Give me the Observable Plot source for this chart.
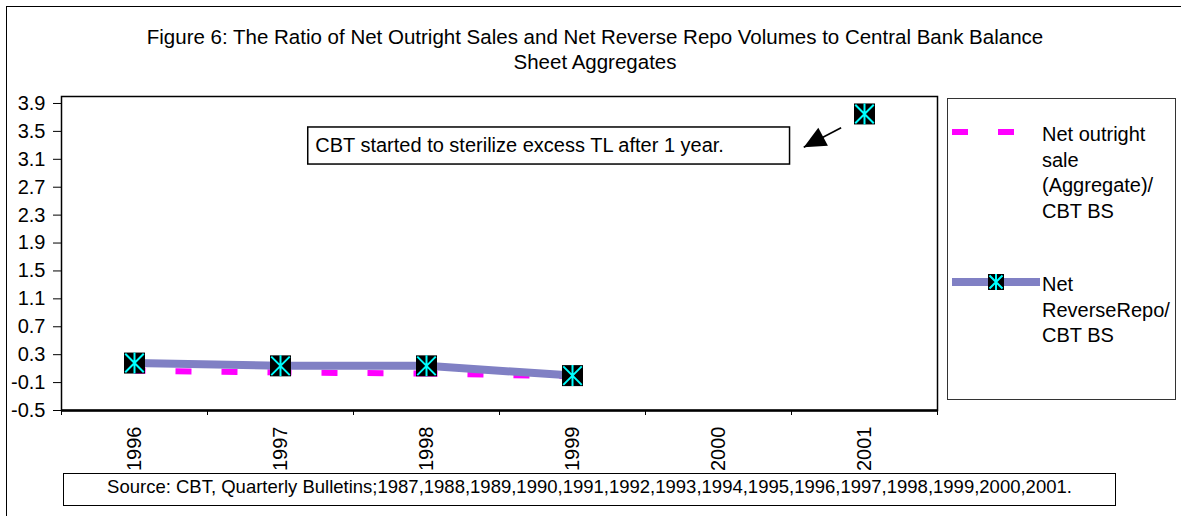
<!DOCTYPE html>
<html>
<head>
<meta charset="utf-8">
<script src="https://cdn.jsdelivr.net/npm/d3@7"></script>
<script src="https://cdn.jsdelivr.net/npm/@observablehq/plot@0.6"></script>
<style>
html, body { margin: 0; padding: 0; background: #fff; overflow: hidden; }
body { width: 1181px; height: 516px; position: relative; font-family: "Liberation Sans", Arial, sans-serif; color: #000; }
#frame { position: absolute; left: 6px; top: 6px; width: 1300px; height: 700px; border: 1px solid #000; box-sizing: border-box; }
#chart { position: absolute; left: 0; top: 0; }
#title { position: absolute; left: 95px; width: 1000px; top: 24px; text-align: center; font-size: 20.5px; line-height: 25px; }
#legend { position: absolute; left: 947px; top: 98px; width: 229px; height: 302px; border: 1px solid #333; box-sizing: border-box; background: #fff; }
#legend svg { position: absolute; left: 0; top: 0; }
.lt { position: absolute; left: 94px; width: 136px; font-size: 20px; line-height: 25.7px; }
#source { position: absolute; left: 63px; top: 473px; width: 1053px; height: 33px; border: 1.5px solid #000; box-sizing: border-box; text-align: center; font-size: 18.5px; line-height: 25px; background: #fff; white-space: nowrap; }
</style>
</head>
<body>
<div id="frame"></div>
<div id="chart"></div>
<div id="title"></div>
<div id="legend"></div>
<div id="source"></div>
<script>
// ---- data ----
const years = [1996, 1997, 1998, 1999, 2000, 2001];
const netOutrightSale = [0.07, 0.045, 0.03, -0.01, null, null];
const netReverseRepo = [0.18, 0.14, 0.14, 0.0, null, 3.75];
const yTicks = [-0.5, -0.1, 0.3, 0.7, 1.1, 1.5, 1.9, 2.3, 2.7, 3.1, 3.5, 3.9];
const seriesNames = ["Net outright sale (Aggregate)/ CBT BS", "Net ReverseRepo/ CBT BS"];
const titleLines = ["Figure 6: The Ratio of Net Outright Sales and Net Reverse Repo Volumes to Central Bank Balance", "Sheet Aggregates"];
const annotationText = "CBT started to sterilize excess TL after 1 year.";
const sourceText = "Source: CBT, Quarterly Bulletins;1987,1988,1989,1990,1991,1992,1993,1994,1995,1996,1997,1998,1999,2000,2001.";

// ---- colours ----
const magenta = "#ff00ff";
const purple = "#8080c4";
const cyan = "#00ffff";

// ---- derived tables ----
const repoPts = years.map((yr, i) => ({year: yr, value: netReverseRepo[i] == null ? NaN : netReverseRepo[i]}));
const repoDefined = repoPts.filter(d => !isNaN(d.value));
const outrightSegs = years.slice(0, -1).map((yr, i) => ({x1: yr, y1: netOutrightSale[i], x2: years[i + 1], y2: netOutrightSale[i + 1]}))
  .filter(d => d.y1 != null && d.y2 != null);
const boundaries = years.map(y => y - 0.5).concat([years[years.length - 1] + 0.5]);

// annotation placement (data units)
const note = {x1: 1997.19, x2: 2000.49, y1: 3.025, y2: 3.556};
const arrow = {x1: 2000.84, y1: 3.551, x2: 2000.584, y2: 3.273};

// custom symbols
const asterisk = {
  draw(ctx, size) {
    const h = Math.sqrt(size) / 2, k = h * 0.88;
    ctx.moveTo(0, -h); ctx.lineTo(0, h);
    ctx.moveTo(-k, -k); ctx.lineTo(k, k);
    ctx.moveTo(-k, k); ctx.lineTo(k, -k);
  }
};
const arrowHead = {
  draw(ctx, size) {
    const L = Math.sqrt(size);
    ctx.moveTo(0, 0); ctx.lineTo(L, -L * 0.46); ctx.lineTo(L, L * 0.46); ctx.closePath();
  }
};
const markerR = 21 / Math.sqrt(Math.PI);

const chart = Plot.plot({
  width: 1181,
  height: 516,
  marginLeft: 61,
  marginRight: 244,
  marginTop: 96,
  marginBottom: 106,
  style: {fontFamily: "Liberation Sans, Arial, sans-serif", fontSize: "20px", color: "#000", background: "transparent", overflow: "visible"},
  x: {domain: [years[0] - 0.5, years[years.length - 1] + 0.5], label: null},
  y: {domain: [-0.5, 4.0], label: null},
  marks: [
    Plot.frame({stroke: "#000", strokeWidth: 1.5}),
    Plot.axisY(yTicks, {tickSize: 8, tickPadding: 8, tickFormat: d => d.toFixed(1), fontSize: 20, label: null}),
    Plot.axisX(boundaries, {tickSize: 5, tickFormat: () => "", label: null}),
    Plot.axisX(years, {tickSize: 0, tickPadding: 16, tickRotate: -90, tickFormat: d => String(d), fontSize: 20, label: null}),
    Plot.ruleY([-0.5], {stroke: "#000", strokeWidth: 2.5}),
    // net outright sale: long-dash line, pattern restarting at each point
    Plot.link(outrightSegs, {x1: "x1", y1: "y1", x2: "x2", y2: "y2", stroke: magenta, strokeWidth: 6, strokeDasharray: "16,30", strokeDashoffset: 5, strokeLinecap: "butt"}),
    // net reverse repo
    Plot.line(repoPts, {x: "year", y: "value", stroke: purple, strokeWidth: 8, strokeLinejoin: "round"}),
    Plot.dot(repoDefined, {x: "year", y: "value", symbol: "square", r: markerR, fill: "#000", stroke: "none"}),
    Plot.dot(repoDefined, {x: "year", y: "value", symbol: asterisk, r: markerR, fill: "none", stroke: cyan, strokeWidth: 2}),
    // annotation
    Plot.rect([note], {x1: "x1", x2: "x2", y1: "y1", y2: "y2", fill: "#fff", stroke: "#000", strokeWidth: 1.5}),
    Plot.text([annotationText], {x: note.x1, y: (note.y1 + note.y2) / 2, dx: 7, text: d => d, textAnchor: "start", fontSize: 20, fill: "#000"}),
    Plot.link([arrow], {x1: "x1", y1: "y1", x2: "x2", y2: "y2", stroke: "#000", strokeWidth: 1.6}),
    Plot.dot([arrow], {x: "x2", y: "y2", symbol: arrowHead, r: 22 / Math.sqrt(Math.PI), rotate: -28.4, fill: "#000", stroke: "none"})
  ]
});
document.getElementById("chart").appendChild(chart);

// title
document.getElementById("title").innerHTML = titleLines.join("<br>");

// source
document.getElementById("source").textContent = sourceText;

// legend
const legend = document.getElementById("legend");
const ns = "http://www.w3.org/2000/svg";
const lsvg = document.createElementNS(ns, "svg");
lsvg.setAttribute("width", "120");
lsvg.setAttribute("height", "300");
lsvg.innerHTML = `
  <line x1="4" x2="70" y1="33" y2="33" stroke="${magenta}" stroke-width="6" stroke-dasharray="16,30"/>
  <line x1="4" x2="92" y1="183" y2="183" stroke="${purple}" stroke-width="8"/>
  <rect x="40" y="175" width="16" height="16" fill="#000"/>
  <path d="M48,175V191M41.5,176.5L54.5,189.5M41.5,189.5L54.5,176.5" stroke="${cyan}" stroke-width="2" fill="none"/>
`;
legend.appendChild(lsvg);
const tops = [23, 173];
seriesNames.forEach((name, i) => {
  const div = document.createElement("div");
  div.className = "lt";
  div.style.top = tops[i] + "px";
  div.textContent = name;
  legend.appendChild(div);
});
</script>
</body>
</html>
